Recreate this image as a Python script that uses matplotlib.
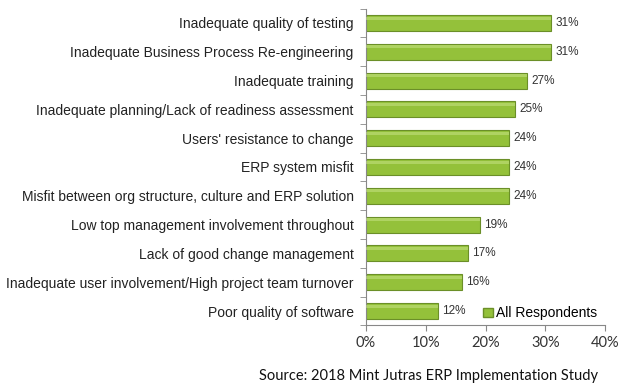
import matplotlib
matplotlib.use("Agg")
import matplotlib.pyplot as plt
from matplotlib.patches import Patch

categories = [
    "Inadequate quality of testing",
    "Inadequate Business Process Re-engineering",
    "Inadequate training",
    "Inadequate planning/Lack of readiness assessment",
    "Users' resistance to change",
    "ERP system misfit",
    "Misfit between org structure, culture and ERP solution",
    "Low top management involvement throughout",
    "Lack of good change management",
    "Inadequate user involvement/High project team turnover",
    "Poor quality of software",
]
values = [31, 31, 27, 25, 24, 24, 24, 19, 17, 16, 12]
xticks = [0, 10, 20, 30, 40]
series_name = "All Respondents"
source = "Source: 2018 Mint Jutras ERP Implementation Study"

plt.rcParams['font.family'] = ['Liberation Sans', 'DejaVu Sans']

fig = plt.figure(figsize=(6.25, 3.9), dpi=100)
ax = fig.add_axes([0.5856, 0.1656, 0.3824, 0.8124])

n = len(categories)
ypos = list(range(n))
ax.barh(ypos, values, height=0.56, color='#94c13a', edgecolor='#6b8f28', linewidth=0.8, zorder=2)
# subtle gloss highlight near top edge
ax.barh([y - 0.17 for y in ypos], values, height=0.1, color='#c6e384', linewidth=0, zorder=3, alpha=0.55)

for y, v in zip(ypos, values):
    ax.text(v + 0.7, y, f"{v}%", va='center', ha='left', fontsize=8.5, color='#333333')

ax.set_ylim(n - 0.5, -0.5)
ax.set_xlim(0, 40)
ax.set_yticks(ypos)
ax.set_yticklabels(categories, fontsize=10, color='#222222')
ax.set_yticks([y + 0.5 for y in range(-1, n)], minor=True)
ax.tick_params(axis='y', which='major', length=0, pad=9)
ax.tick_params(axis='y', which='minor', length=4, color='#888888')
ax.set_xticks(xticks)
ax.set_xticklabels([f"{t}%" for t in xticks], fontsize=10.5, color='#333333', family=['Lato', 'DejaVu Sans'])
ax.tick_params(axis='x', length=4, color='#888888')
for s in ['top', 'right']:
    ax.spines[s].set_visible(False)
for s in ['left', 'bottom']:
    ax.spines[s].set_color('#888888')

ax.legend(handles=[Patch(facecolor='#94c13a', edgecolor='#6b8f28', label=series_name)],
          loc='lower right', bbox_to_anchor=(1.0, -0.01), frameon=False, fontsize=10,
          handlelength=0.7, handleheight=0.7, handletextpad=0.2, borderaxespad=0.2)

fig.text(0.957, 0.035, source, ha='right', va='center', fontsize=10.5, color='#111111', family=['Lato', 'DejaVu Sans'])

fig.savefig("out.png", dpi=100)
